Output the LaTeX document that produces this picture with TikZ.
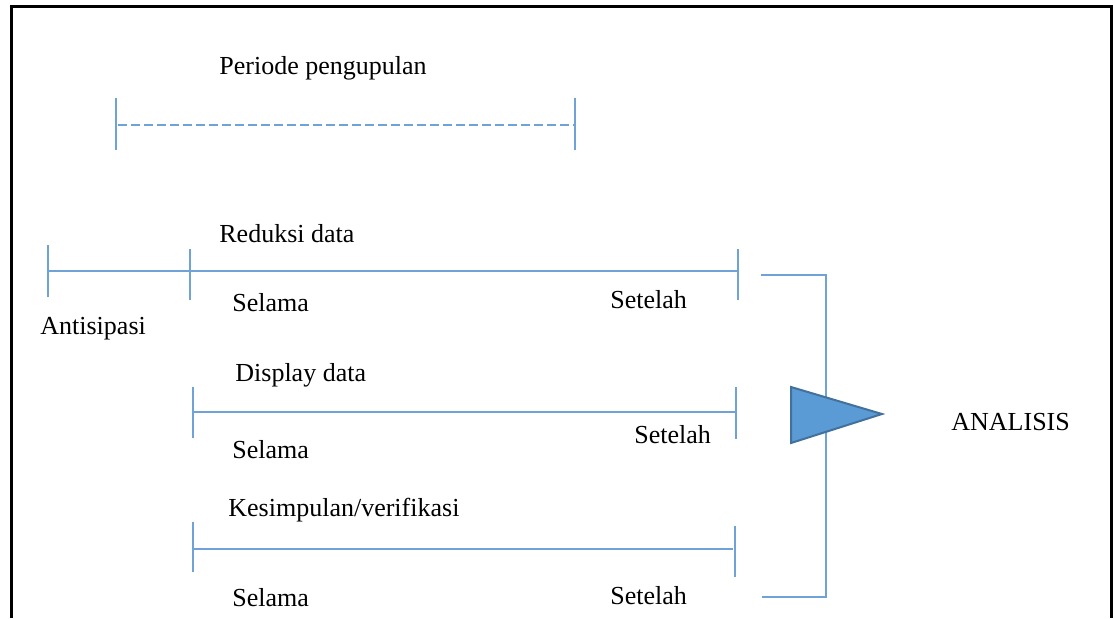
\documentclass[tikz,border=0pt]{standalone}
\usepackage{fontspec}
\setmainfont{Liberation Serif}
\definecolor{lineblue}{HTML}{6FA3D8}
\definecolor{trifill}{HTML}{5B9BD5}
\definecolor{tridraw}{HTML}{41719C}
\begin{document}
\begin{tikzpicture}[x=0.5pt,y=-0.5pt,
  bl/.style={draw=lineblue,line width=0.75pt},
  lbl/.style={inner sep=0pt,anchor=west,font=\fontsize{13}{15}\selectfont},
  frame/.style={draw=black,line width=1.5pt}]
\useasboundingbox (0,0) rectangle (1115,618);
% frame
\draw[frame] (11,618) -- (11,6) -- (1111,6) -- (1111,618);
% Periode pengupulan
\node[lbl] (periode) at (219,68) {Periode pengupulan};
\coordinate (p1t) at (116,98); \coordinate (p1b) at (116,150);
\coordinate (p2t) at (575,98); \coordinate (p2b) at (575,150);
\coordinate (pl) at (118,125); \coordinate (pr) at (575,125);
\draw[bl] (p1t) -- (p1b);
\draw[bl] (p2t) -- (p2b);
\draw[bl,dash pattern=on 4.5pt off 2pt] (pl) -- (pr);
% Reduksi data
\node[lbl] (reduksi) at (219,234) {Reduksi data};
\coordinate (r0t) at (48,245); \coordinate (r0b) at (48,297);
\coordinate (r1t) at (190,249); \coordinate (r1b) at (190,300);
\coordinate (r2t) at (738,249); \coordinate (r2b) at (738,300);
\coordinate (rl) at (48,271); \coordinate (rr) at (738,271);
\draw[bl] (r0t) -- (r0b);
\draw[bl] (r1t) -- (r1b);
\draw[bl] (r2t) -- (r2b);
\draw[bl] (rl) -- (rr);
\node[lbl] (antisipasi) at (40,329) {Antisipasi};
\node[lbl] (selama1) at (232,303) {Selama};
\node[lbl] (setelah1) at (610,300) {Setelah};
% Display data
\node[lbl] (display) at (235,375) {Display data};
\coordinate (d1t) at (193,387); \coordinate (d1b) at (193,438);
\coordinate (d2t) at (736,387); \coordinate (d2b) at (736,439);
\coordinate (dl) at (193,412); \coordinate (dr) at (736,412);
\draw[bl] (d1t) -- (d1b);
\draw[bl] (d2t) -- (d2b);
\draw[bl] (dl) -- (dr);
\node[lbl] (selama2) at (232,450) {Selama};
\node[lbl] (setelah2) at (634,435) {Setelah};
% Kesimpulan
\node[lbl] (kesimpulan) at (228,510) {Kesimpulan/verifikasi};
\coordinate (k1t) at (193,522); \coordinate (k1b) at (193,572);
\coordinate (k2t) at (735,526); \coordinate (k2b) at (735,577);
\coordinate (kl) at (193,549); \coordinate (kr) at (733,549);
\draw[bl] (k1t) -- (k1b);
\draw[bl] (k2t) -- (k2b);
\draw[bl] (kl) -- (kr);
\node[lbl] (selama3) at (232,598) {Selama};
\node[lbl] (setelah3) at (610,596) {Setelah};
% bracket
\coordinate (bt0) at (761,275); \coordinate (bt1) at (826,275);
\coordinate (bb0) at (762,597); \coordinate (bb1) at (826,597);
\draw[bl] (bt0) -- (bt1) -- (bb1) -- (bb0);
% triangle
\coordinate (ta) at (791,387); \coordinate (tb) at (791,443); \coordinate (tc) at (882,414);
\draw[draw=tridraw,fill=trifill,line width=1pt,line join=miter] (ta) -- (tc) -- (tb) -- cycle;
\node[lbl] (analisis) at (951,422) {ANALISIS};
\end{tikzpicture}
\end{document}
